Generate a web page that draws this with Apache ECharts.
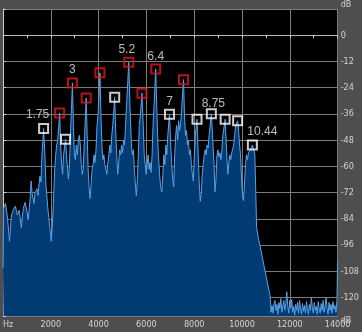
<!DOCTYPE html>
<html><head><meta charset="utf-8">
<script src="https://cdn.jsdelivr.net/npm/echarts@6/dist/echarts.min.js"></script>
<style>html,body{margin:0;padding:0;background:#4e4e4e}#c{width:362px;height:332px}</style>
</head><body><div id="c"></div>
<script>
// Spectrum (Hz, dB)
const specFreq = [0,25,107,189,272,354,436,518,601,683,765,848,930,1012,1053,1136,1177,1218,1300,1341,1423,1465,1506,1547,1588,1629,1699,1753,1794,1876,1958,2020,2082,2123,2164,2205,2246,2287,2370,2411,2452,2493,2534,2617,2658,2699,2740,2781,2822,2905,2946,2987,3028,3069,3110,3151,3193,3234,3275,3316,3357,3398,3480,3522,3563,3604,3645,3686,3727,3768,3810,3851,3892,3933,3974,4056,4097,4139,4180,4221,4262,4344,4386,4427,4468,4509,4550,4591,4673,4714,4756,4797,4838,4879,4920,4961,5002,5044,5085,5126,5167,5262,5311,5373,5414,5455,5496,5537,5578,5620,5661,5702,5743,5813,5867,5908,5949,5990,6031,6072,6113,6154,6195,6237,6278,6319,6389,6443,6484,6525,6566,6607,6648,6689,6730,6772,6813,6854,6895,6965,7018,7059,7101,7142,7183,7224,7265,7306,7347,7388,7430,7471,7553,7594,7635,7676,7718,7759,7800,7841,7882,7923,7965,8006,8047,8117,8170,8211,8253,8294,8335,8376,8417,8458,8499,8540,8582,8623,8717,8767,8829,8870,8911,8952,8993,9034,9075,9117,9158,9199,9294,9343,9405,9446,9487,9528,9569,9610,9652,9693,9734,9816,9857,9898,9939,9981,10022,10063,10104,10145,10186,10227,10268,10310,10351,10433,10495,10536,10577,10610,10680,10762,10845,10927,11009,11091,11174,11215,11256,11297,11338,11379,11420,11461,11503,11544,11585,11626,11667,11708,11749,11791,11832,11873,11914,11955,11996,12037,12078,12120,12161,12202,12243,12284,12325,12366,12408,12449,12490,12531,12572,12613,12654,12696,12737,12778,12819,12860,12901,12942,12984,13025,13066,13107,13148,13189,13230,13271,13313,13354,13395,13436,13477,13518,13560,13601,13642,13683,13724,13765,13806,13848,13889,13930,13971,14000];
const specDb = [-106.7,-79.1,-76.9,-83.6,-94.2,-82.2,-79.6,-78.2,-82.2,-80.0,-88.0,-79.1,-76.4,-81.3,-84.4,-74.7,-66.7,-72.4,-76.9,-71.6,-70.2,-73.3,-68.0,-64.4,-67.1,-54.7,-42.7,-54.7,-68.0,-79.1,-88.0,-94.2,-83.6,-72.4,-61.3,-54.7,-50.2,-48.0,-35.6,-50.2,-59.1,-63.6,-54.7,-47.6,-54.7,-61.3,-65.8,-59.1,-45.8,-21.8,-41.3,-54.7,-56.9,-50.2,-54.7,-48.0,-45.8,-50.2,-59.1,-63.6,-61.3,-50.2,-28.7,-45.8,-61.3,-70.2,-74.7,-68.0,-61.3,-59.1,-54.7,-58.2,-52.4,-41.3,-36.9,-17.2,-36.9,-50.2,-56.9,-54.7,-59.1,-63.6,-58.2,-54.7,-50.2,-53.8,-45.8,-41.3,-28.4,-43.6,-54.7,-63.6,-59.1,-52.4,-54.7,-50.2,-53.8,-48.0,-50.2,-41.3,-32.4,-12.4,-32.4,-50.2,-54.7,-52.4,-61.3,-68.0,-73.3,-65.8,-54.7,-41.3,-36.9,-26.5,-41.3,-54.7,-59.1,-63.6,-59.1,-54.7,-61.3,-58.2,-62.7,-54.7,-41.3,-32.4,-15.4,-36.9,-50.2,-59.1,-65.8,-70.2,-71.6,-63.6,-54.7,-59.1,-50.2,-54.7,-45.8,-36.1,-50.2,-59.1,-65.8,-69.3,-54.7,-45.8,-41.3,-48.0,-39.1,-43.6,-40.4,-34.7,-20.3,-36.9,-45.8,-43.6,-50.2,-48.0,-54.7,-52.4,-59.1,-63.6,-66.7,-54.7,-45.8,-38.4,-54.7,-68.0,-76.0,-72.4,-63.6,-59.1,-54.7,-52.4,-54.7,-50.2,-51.6,-45.8,-35.9,-45.8,-59.1,-71.6,-65.8,-54.7,-52.4,-55.6,-53.8,-56.9,-52.4,-45.8,-38.4,-50.2,-63.6,-59.1,-54.7,-56.9,-53.8,-54.7,-50.2,-45.8,-41.3,-39.1,-43.6,-50.2,-54.7,-65.8,-73.8,-75.6,-68.0,-59.1,-54.7,-56.9,-53.8,-54.7,-52.4,-50.2,-52.4,-54.7,-72.4,-88.0,-92.4,-96.9,-101.3,-105.8,-110.2,-114.7,-119.1,-126.7,-123.6,-127.1,-122.7,-121.3,-125.8,-123.1,-127.6,-122.2,-124.9,-120.4,-126.7,-123.6,-121.3,-125.8,-122.7,-117.3,-124.0,-127.1,-121.3,-124.9,-120.9,-126.7,-124.0,-128.0,-123.1,-125.8,-122.2,-127.1,-121.3,-125.3,-127.6,-122.7,-126.2,-123.6,-127.1,-121.8,-124.9,-127.6,-123.1,-125.8,-120.0,-124.4,-127.1,-122.2,-125.8,-124.0,-127.6,-121.8,-125.3,-127.1,-122.7,-125.8,-121.3,-126.7,-123.6,-120.0,-125.3,-127.6,-122.2,-125.8,-123.1,-127.1,-121.8,-125.3,-123.6,-126.7,-121.3,-103.6];

// Marked peaks
const peakFreq = [1699,2370,2617,2905,3480,4056,4673,5262,5813,6389,6965,7553,8117,8717,9294,9816,10433];
const peakDb = [-42.7,-35.6,-47.6,-21.8,-28.7,-17.2,-28.4,-12.4,-26.5,-15.4,-36.1,-20.3,-38.4,-35.9,-38.4,-39.1,-50.2];
const peakKind = ['white','red','white','red','red','red','white','red','red','red','white','red','white','white','white','white','white'];
const peakLabel = ['1.75','','','3','','','','5.2','','6.4','7','','','8.75','','','10.44'];

// Axis ticks
const dbTicks = [12,0,-12,-24,-36,-48,-60,-72,-84,-96,-108,-120,-128.4];
const dbMin = -128.4, dbMax = 12;
const hzMin = 0, hzMax = 14000, hzStep = 2000;

const labelOffset = {'1.75':[-6,0],'3':[0,0],'5.2':[-2,1],'6.4':[0,1],'7':[0,1],'8.75':[2,3],'10.44':[10,0]};
const axisFont = "'Liberation Sans Narrow','DejaVu Sans Condensed',sans-serif";
const markColor = {red:'#e3161f', white:'#ffffff'};

const chart = echarts.init(document.getElementById('c'), null, {renderer:'canvas'});
chart.setOption({
  backgroundColor:'#4e4e4e',
  animation:false,
  grid:{left:1,right:20,top:0,bottom:16,show:true,backgroundColor:'#000',borderWidth:0},
  xAxis:{type:'value',min:hzMin,max:hzMax,interval:hzStep,
    axisLine:{show:true,lineStyle:{color:'#b8b8b8',width:1}},
    axisTick:{show:true,length:3,lineStyle:{color:'#d0d0d0'}},
    minorTick:{show:true,splitNumber:2,length:3,lineStyle:{color:'#d0d0d0'}},
    splitLine:{show:true,lineStyle:{color:'#7c7c7c',width:1}},
    axisLabel:{color:'#d4d4d4',fontSize:9,fontFamily:axisFont,margin:4,alignMinLabel:'left',
      formatter:v=>v===0?'Hz':String(v)}
  },
  yAxis:{type:'value',position:'right',min:dbMin,max:dbMax,
    axisLine:{show:true,lineStyle:{color:'#e0e0e0',type:'dotted'}},
    axisTick:{show:true,length:3,customValues:dbTicks,lineStyle:{color:'#d0d0d0'}},
    splitLine:{show:true,lineStyle:{color:'#7c7c7c',width:1}},
    axisLabel:{customValues:dbTicks,color:'#d4d4d4',fontSize:9,fontFamily:axisFont,margin:3,
      verticalAlignMaxLabel:'top',verticalAlignMinLabel:'bottom',
      formatter:v=>(v===dbMax||v===dbMin)?'dB':String(v)}
  },
  series:[
    {type:'line',silent:true,showSymbol:false,symbol:'none',z:2,
     data:specFreq.map((f,i)=>[f,specDb[i]]),
     lineStyle:{color:'#5aa2e6',width:1},
     areaStyle:{color:'#023a74',opacity:1,origin:'start'}},
    {type:'scatter',silent:true,z:5,symbol:'rect',symbolSize:9,
     itemStyle:{color:'rgba(0,0,0,0)',borderWidth:2},
     label:{position:'top',distance:2,color:'#e6e6e6',fontSize:12,fontFamily:'Liberation Sans'},
     data:peakFreq.map((f,i)=>({
       value:[f,peakDb[i]],
       itemStyle:{borderColor:markColor[peakKind[i]]},
       label:{show:!!peakLabel[i],formatter:peakLabel[i],offset:labelOffset[peakLabel[i]]||[0,0]}
     }))}
  ]
});
</script></body></html>
